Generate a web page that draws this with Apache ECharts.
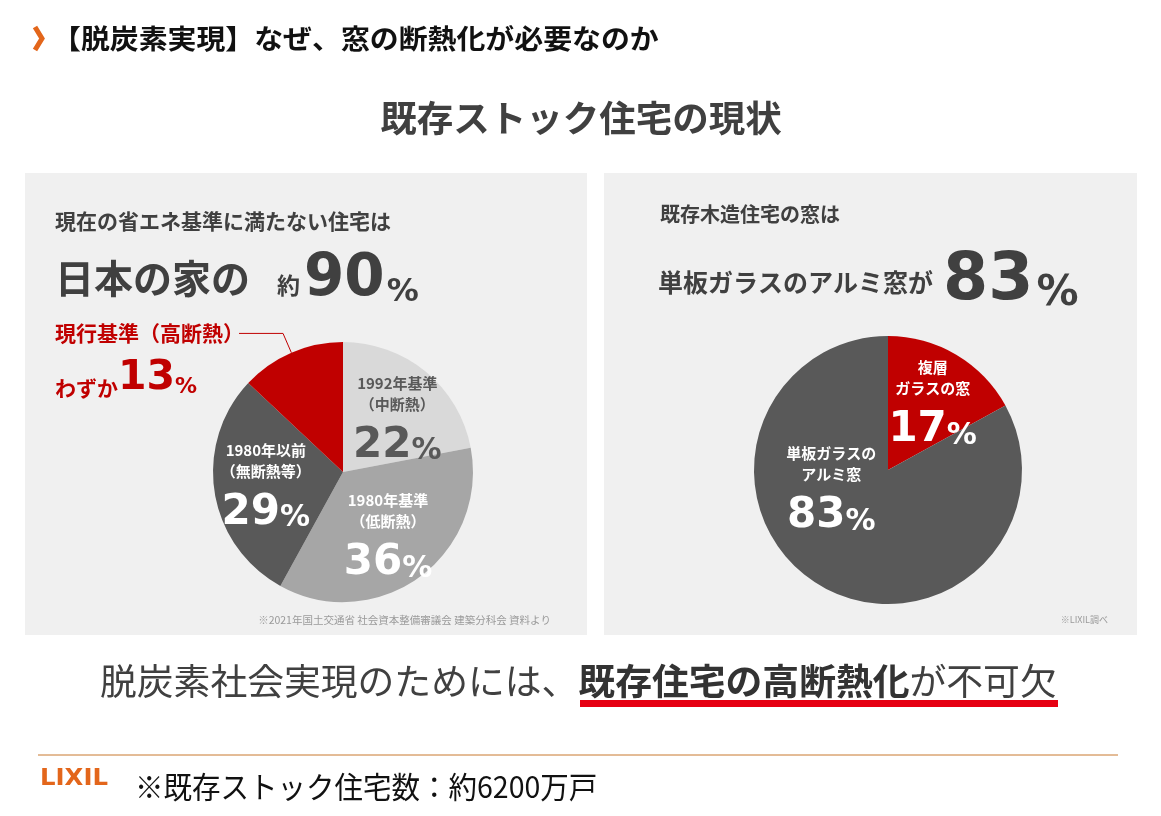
<!DOCTYPE html>
<html><head><meta charset="utf-8">
<script src="https://cdn.jsdelivr.net/npm/echarts@6/dist/echarts.min.js"></script>
<style>html,body{margin:0;padding:0;background:#fff}#c{width:1161px;height:816px}</style>
</head><body><div id="c"></div>
<script>
// ---- data ----
const leftCategories = ['1992年基準（中断熱）', '1980年基準（低断熱）', '1980年以前（無断熱等）', '現行基準（高断熱）'];
const leftLines1 = ['1992年基準', '1980年基準', '1980年以前', '現行基準（高断熱）'];
const leftLines2 = ['（中断熱）', '（低断熱）', '（無断熱等）', ''];
const leftValues = [22, 36, 29, 13];
const rightCategories = ['複層ガラスの窓', '単板ガラスのアルミ窓'];
const rightLines1 = ['複層', '単板ガラスの'];
const rightLines2 = ['ガラスの窓', 'アルミ窓'];
const rightValues = [17, 83];
const headlineLeft = 90;   // 約90%
const headlineRight = 83;  // 83%

const JP = '"Noto Sans CJK JP", sans-serif';
const NUM = '"DejaVu Sans", "Noto Sans", sans-serif';
const DARK = '#404040';
const RED = '#c00000';
const leftColors = ['#d9d9d9', '#a6a6a6', '#595959', RED];
const rightColors = [RED, '#595959'];
// label nudges (style only)
const leftNudge = [[11, 0], [5, 10], [-10, 4], [0, 0]];
const rightNudge = [[9, -6], [-21, -40]];

const chart = echarts.init(document.getElementById('c'));

function insideRich(color) {
  return {
    s: {fontFamily: JP, fontWeight: 'bold', fontSize: 15, lineHeight: 21, color: color},
    n: {fontFamily: NUM, fontWeight: 'bold', fontSize: 42, lineHeight: 52, color: color, verticalAlign: 'bottom'},
    p: {fontFamily: NUM, fontWeight: 'bold', fontSize: 30, lineHeight: 42, color: color, verticalAlign: 'bottom'}
  };
}

const leftData = leftValues.map((v, i) => {
  const d = {name: leftCategories[i], value: v, itemStyle: {color: leftColors[i]}};
  if (i === 3) {
    d.label = {
      position: 'outside', alignTo: 'edge', edgeDistance: 55, distanceToLabelLine: 2,
      formatter: () => '{sp| }\n{t|' + leftLines1[i] + '}\n{w|わずか}{n|' + v + '}{p|%}',
      rich: {
        sp: {fontSize: 10, lineHeight: 44},
        t: {fontFamily: JP, fontWeight: 'bold', fontSize: 21, lineHeight: 42, color: RED},
        w: {fontFamily: JP, fontWeight: 'bold', fontSize: 21, lineHeight: 28, color: RED, verticalAlign: 'bottom'},
        n: {fontFamily: NUM, fontWeight: 'bold', fontSize: 41, lineHeight: 44, color: RED, verticalAlign: 'bottom'},
        p: {fontFamily: NUM, fontWeight: 'bold', fontSize: 22, lineHeight: 28, color: RED, verticalAlign: 'bottom'}
      }
    };
    d.labelLine = {show: true, length: 21, length2: 44, smooth: false, lineStyle: {color: RED, width: 1}};
  } else {
    const col = i === 0 ? '#595959' : '#ffffff';
    d.label = {
      position: 'inside',
      formatter: () => '{s|' + leftLines1[i] + '}\n{s|' + leftLines2[i] + '}\n{n|' + v + '}{p|%}',
      rich: insideRich(col)
    };
  }
  return d;
});

const rightData = rightValues.map((v, i) => ({
  name: rightCategories[i], value: v, itemStyle: {color: rightColors[i]},
  label: {
    position: 'inside',
    formatter: () => '{s|' + rightLines1[i] + '}\n{s|' + rightLines2[i] + '}\n{n|' + v + '}{p|%}',
    rich: insideRich('#ffffff')
  }
}));

const graphic = [
  // panels
  {type: 'rect', z: -10, shape: {x: 25, y: 173, width: 562, height: 462}, style: {fill: '#f0f0f0'}},
  {type: 'rect', z: -10, shape: {x: 604, y: 173, width: 533, height: 462}, style: {fill: '#f0f0f0'}},
  // header chevron
  {type: 'polyline', shape: {points: [[35, 27], [42, 38.5], [35, 50]]}, style: {stroke: '#e3661b', lineWidth: 5, fill: null}},
  {type: 'text', x: 52, y: 39, scaleX: 1.07, style: {text: '【脱炭素実現】なぜ、窓の断熱化が必要なのか', fontFamily: JP, fontWeight: 'bold', fontSize: 27, fill: '#111', verticalAlign: 'middle'}},
  // title
  {type: 'text', x: 581, y: 118, style: {text: '既存ストック住宅の現状', fontFamily: JP, fontWeight: 'bold', fontSize: 36.5, fill: DARK, align: 'center', verticalAlign: 'middle'}},
  // left panel texts
  {type: 'text', x: 55, y: 221, style: {text: '現在の省エネ基準に満たない住宅は', fontFamily: JP, fontWeight: 'bold', fontSize: 21, fill: DARK, verticalAlign: 'middle'}},
  {type: 'text', x: 55, y: 309, style: {
    text: '{a|日本の家の}{b|約}{c|' + headlineLeft + '}{d|%}', verticalAlign: 'bottom',
    rich: {
      a: {fontFamily: JP, fontWeight: 'bold', fontSize: 39, fill: DARK, verticalAlign: 'bottom', padding: [0, 27, 11, 0]},
      b: {fontFamily: JP, fontWeight: 'bold', fontSize: 23, fill: DARK, verticalAlign: 'bottom', padding: [0, 4, 12, 0]},
      c: {fontFamily: NUM, fontWeight: 'bold', fontSize: 58, fill: DARK, verticalAlign: 'bottom'},
      d: {fontFamily: NUM, fontWeight: 'bold', fontSize: 32, fill: DARK, verticalAlign: 'bottom', padding: [0, 0, 0, 2]}
    }}},
  {type: 'text', x: 551, y: 620, style: {text: '※2021年国土交通省 社会資本整備審議会 建築分科会 資料より', fontFamily: JP, fontSize: 10.5, fill: '#9a9a9a', align: 'right', verticalAlign: 'middle'}},
  // right panel texts
  {type: 'text', x: 660, y: 214, style: {text: '既存木造住宅の窓は', fontFamily: JP, fontWeight: 'bold', fontSize: 20, fill: DARK, verticalAlign: 'middle'}},
  {type: 'text', x: 658, y: 315, style: {
    text: '{a|単板ガラスのアルミ窓が}{c|' + headlineRight + '}{d|%}', verticalAlign: 'bottom',
    rich: {
      a: {fontFamily: JP, fontWeight: 'bold', fontSize: 25, fill: DARK, verticalAlign: 'bottom', padding: [0, 10, 20, 0]},
      c: {fontFamily: NUM, fontWeight: 'bold', fontSize: 65, fill: DARK, verticalAlign: 'bottom'},
      d: {fontFamily: NUM, fontWeight: 'bold', fontSize: 42, fill: DARK, verticalAlign: 'bottom', padding: [0, 0, 0, 3]}
    }}},
  {type: 'text', x: 1108, y: 620, style: {text: '※LIXIL調べ', fontFamily: JP, fontSize: 9, fill: '#9a9a9a', align: 'right', verticalAlign: 'middle'}},
  // conclusion
  {type: 'text', x: 100, y: 681, style: {
    text: '{a|脱炭素社会実現のためには、}{b|既存住宅の高断熱化}{a|が不可欠}', verticalAlign: 'middle',
    rich: {
      a: {fontFamily: JP, fontSize: 36.8, fill: DARK},
      b: {fontFamily: JP, fontWeight: 'bold', fontSize: 36.8, fill: '#333333'}
    }}},
  {type: 'rect', shape: {x: 580, y: 700, width: 478, height: 7}, style: {fill: '#e60012'}},
  // footer
  {type: 'line', shape: {x1: 38, y1: 755, x2: 1118, y2: 755}, style: {stroke: '#c8782e', lineWidth: 1}},
  {type: 'text', x: 40, y: 779, scaleX: 1.06, style: {text: 'LIXIL', fontFamily: NUM, fontWeight: 'bold', fontSize: 23, fill: '#e3661b', verticalAlign: 'middle'}},
  {type: 'text', x: 135, y: 787, scaleX: 0.95, style: {text: '※既存ストック住宅数：約6200万戸', fontFamily: JP, fontSize: 30, fill: '#111', verticalAlign: 'middle'}}
];

chart.setOption({
  animation: false,
  backgroundColor: '#ffffff',
  graphic: graphic,
  series: [
    {type: 'pie', center: [343, 472], radius: 130, startAngle: 90, clockwise: true,
     left: 0, top: 0, width: 1161, height: 816,
     avoidLabelOverlap: false, silent: true,
     itemStyle: {borderWidth: 0},
     labelLine: {show: false},
     labelLayout: p => (p.dataIndex < 3 ? {dx: leftNudge[p.dataIndex][0], dy: leftNudge[p.dataIndex][1]} : {}),
     data: leftData},
    {type: 'pie', center: [888, 470], radius: 134, startAngle: 90, clockwise: true,
     avoidLabelOverlap: false, silent: true,
     itemStyle: {borderWidth: 0},
     labelLine: {show: false},
     labelLayout: p => ({dx: rightNudge[p.dataIndex][0], dy: rightNudge[p.dataIndex][1]}),
     data: rightData}
  ]
});
</script></body></html>
